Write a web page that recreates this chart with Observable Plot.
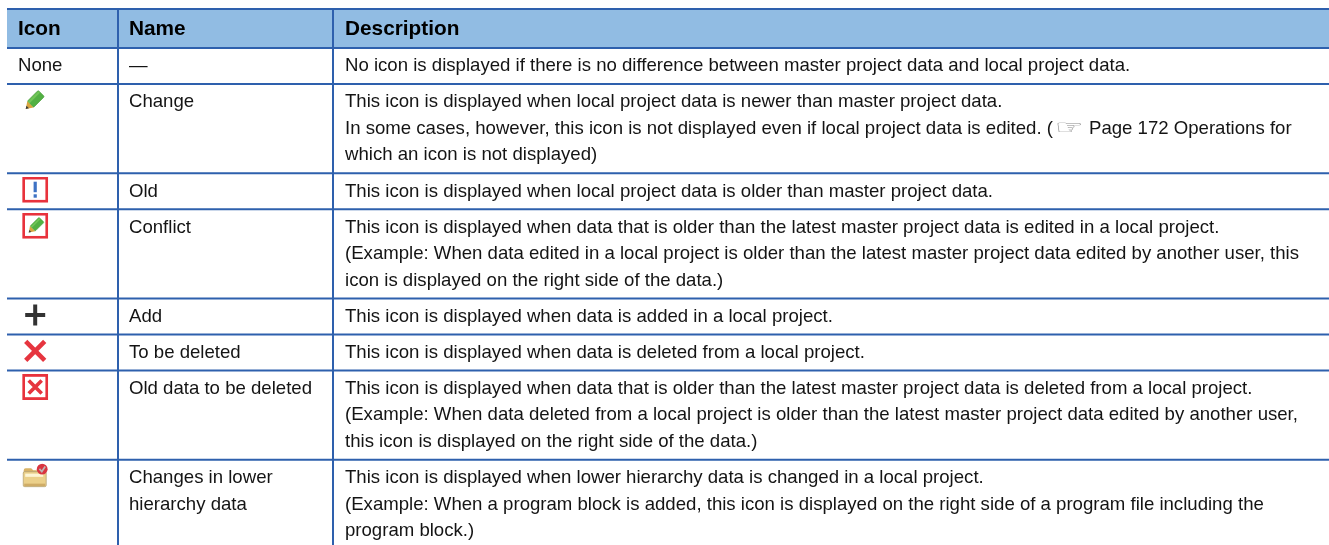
<!DOCTYPE html>
<html><head><meta charset="utf-8">
<script src="https://cdn.jsdelivr.net/npm/d3@7"></script>
<script src="https://cdn.jsdelivr.net/npm/@observablehq/plot@0.6"></script>
<style>html,body{margin:0;padding:0;background:#fff}svg{display:block;filter:blur(.3px)}</style>
</head><body><div id="chart"></div>
<script>
const columns = ["Icon", "Name", "Description"];
const iconCells = ["None", "pencil", "old", "conflict", "add", "remove", "oldremove", "folder"];
const names = [["—"], ["Change"], ["Old"], ["Conflict"], ["Add"], ["To be deleted"], ["Old data to be deleted"], ["Changes in lower", "hierarchy data"]];
const descriptions = [
  ["No icon is displayed if there is no difference between master project data and local project data."],
  ["This icon is displayed when local project data is newer than master project data.",
   "In some cases, however, this icon is not displayed even if local project data is edited. (☞ Page 172 Operations for",
   "which an icon is not displayed)"],
  ["This icon is displayed when local project data is older than master project data."],
  ["This icon is displayed when data that is older than the latest master project data is edited in a local project.",
   "(Example: When data edited in a local project is older than the latest master project data edited by another user, this",
   "icon is displayed on the right side of the data.)"],
  ["This icon is displayed when data is added in a local project."],
  ["This icon is displayed when data is deleted from a local project."],
  ["This icon is displayed when data that is older than the latest master project data is deleted from a local project.",
   "(Example: When data deleted from a local project is older than the latest master project data edited by another user,",
   "this icon is displayed on the right side of the data.)"],
  ["This icon is displayed when lower hierarchy data is changed in a local project.",
   "(Example: When a program block is added, this icon is displayed on the right side of a program file including the",
   "program block.)"]
];

// layout
const W = 1329, H = 545;
const colEdges = [7, 117.5, 332.5, W];
const tableTop = 8.5, headerH = 39, lineH = 26.55, rowPad = 9.5;
const textX = [17.5, 128.5, 344.5];
const blue = "#2e60ad", headFill = "#91bce3", ink = "#141414";

let cursor = tableTop + headerH;
const rows = iconCells.map((icon, i) => {
  const n = descriptions[i].length;
  const r = {i, icon, rowTop: cursor, bottom: cursor + rowPad + n * lineH};
  cursor = r.bottom;
  return r;
});

const textLines = [];
rows.forEach(r => {
  const add = (t, c, k) => textLines.push({t, x: textX[c], y: r.rowTop + 23.3 + k * lineH});
  if (r.icon === "None") add("None", 0, 0);
  names[r.i].forEach((t, k) => add(t, 1, k));
  descriptions[r.i].forEach((t, k) => add(t, 2, k));
});
const heads = columns.map((t, c) => ({t, x: textX[c], y: tableTop + 25.5}));

const pencil = `<g transform="rotate(45 13 13)"><rect x="8.6" y="1.5" width="8.8" height="15.5" rx="1.2" fill="#52b043" stroke="#4b9e3c" stroke-width=".6"/><rect x="9.4" y="2" width="2.2" height="15" fill="#72c558"/><path d="M8.6 17h8.8L13 23.5z" fill="#d9a53f"/><path d="M11.2 20.8h3.6L13 23.6z" fill="#3c3c3c"/></g>`;
const box = `<rect x="1.4" y="1.4" width="23.2" height="23.2" fill="#fff" stroke="#e8323c" stroke-width="2.8"/>`;
const iconSvg = {
  pencil: `<g transform="translate(-2 1)">${pencil}</g>`,
  old: box + `<rect x="11.4" y="5" width="3.2" height="10.5" fill="#3d72c4"/><rect x="11.4" y="17.6" width="3.2" height="3.4" fill="#3d72c4"/>`,
  conflict: box + `<g transform="translate(2 3) scale(.82)">${pencil}</g>`,
  add: `<path d="M3 13H23M13 2.5V23.5" stroke="#333" stroke-width="4"/>`,
  remove: `<path d="M3.5 3.5L22.5 22.5M22.5 3.5L3.5 22.5" stroke="#e6353f" stroke-width="4.6"/>`,
  oldremove: box + `<path d="M6.5 6.5L19.5 19.5M19.5 6.5L6.5 19.5" stroke="#e6353f" stroke-width="3.6"/>`,
  folder: `<path d="M1.5 9V7q0-2 2-2H9l2 2h9q1.5 0 1.5 1.5V11H1.5z" fill="#d8b266"/><rect x="1" y="8.5" width="23" height="15" rx="1.5" fill="#ebd08a" stroke="#b5a274" stroke-width=".8"/><rect x="3" y="10.5" width="18" height="3.2" fill="#fdf5d4"/><rect x="2" y="20.5" width="21" height="2.4" fill="#cfac66"/><circle cx="20" cy="6" r="5.4" fill="#d93440"/><path d="M17.2 5.8l2.4 2.6 3.4-5" fill="none" stroke="#bdb5b5" stroke-width="1.7"/>`
};
const iconMarks = rows.filter(r => iconSvg[r.icon]).map(r => ({
  x: 34.7, y: r.rowTop + 16.5,
  src: "data:image/svg+xml," + encodeURIComponent(`<svg xmlns="http://www.w3.org/2000/svg" width="26" height="26" viewBox="0 0 26 26">${iconSvg[r.icon]}</svg>`)
}));

const hLines = [tableTop, tableTop + headerH, ...rows.map(r => r.bottom)];

const plot = Plot.plot({
  width: W, height: H, margin: 0,
  x: {domain: [0, W], range: [0, W], axis: null},
  y: {domain: [0, H], range: [0, H], axis: null},
  style: {background: "#fff", fontFamily: "'Liberation Sans', Arial, sans-serif"},
  marks: [
    Plot.rectY([0], {x1: colEdges[0], x2: colEdges[3], y1: tableTop, y2: tableTop + headerH, fill: headFill}),
    Plot.image(iconMarks, {x: "x", y: "y", src: "src", width: 26, height: 26}),
    Plot.ruleY(hLines, {x1: colEdges[0], x2: colEdges[3], stroke: blue, strokeWidth: 2}),
    Plot.ruleX(colEdges.slice(1, 3), {y1: tableTop, y2: H + 5, stroke: blue, strokeWidth: 2}),
    Plot.text(heads, {x: "x", y: "y", text: "t", textAnchor: "start", lineAnchor: "bottom", fontSize: 20.8, fontWeight: "bold", fill: "#000"}),
    Plot.text(textLines, {x: "x", y: "y", text: "t", textAnchor: "start", lineAnchor: "bottom", fontSize: 18.6, fill: ink})
  ]
});
d3.select(plot).selectAll("text").filter(function(){return this.textContent.includes("☞") && this.children.length === 0;}).each(function(){
  const [a, b] = this.textContent.split("☞");
  const s = d3.select(this).text(null);
  s.append("tspan").text(a);
  s.append("tspan").text("☞").attr("fill", "#8a8a8a").attr("dx", 2).attr("textLength", 29).attr("lengthAdjust", "spacingAndGlyphs").style("font-family", "'DejaVu Sans'").style("font-size", "20px");
  s.append("tspan").text(b.trimStart()).attr("dx", 5);
});
document.getElementById("chart").append(plot);
</script></body></html>
